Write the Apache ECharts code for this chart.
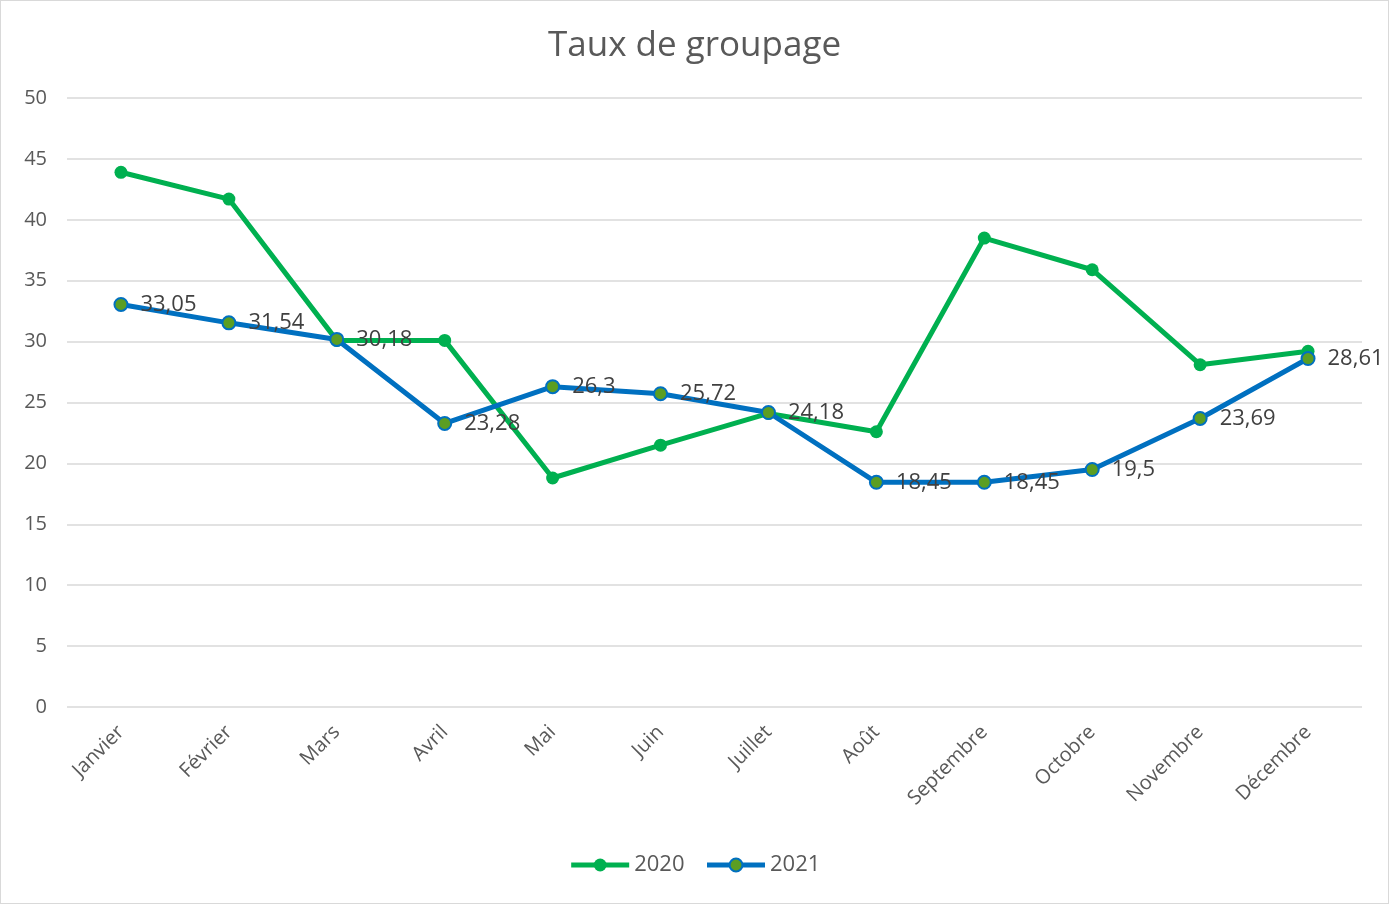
<!DOCTYPE html>
<html>
<head>
<meta charset="utf-8">
<script src="https://cdn.jsdelivr.net/npm/echarts@6/dist/echarts.min.js"></script>
<style>
  html, body { margin: 0; padding: 0; background: #fff; }
  #chart { width: 1389px; height: 904px; box-sizing: border-box; border: 1px solid #d9d9d9; }
</style>
</head>
<body>
<div id="chart"></div>
<script>
// mois
var months = ['Janvier', 'Février', 'Mars', 'Avril', 'Mai', 'Juin', 'Juillet', 'Août', 'Septembre', 'Octobre', 'Novembre', 'Décembre'];
// valeurs 2020
var values2020 = [43.9, 41.7, 30.1, 30.1, 18.8, 21.5, 24.1, 22.6, 38.5, 35.9, 28.1, 29.2];
// valeurs 2021
var values2021 = [33.05, 31.54, 30.18, 23.28, 26.3, 25.72, 24.18, 18.45, 18.45, 19.5, 23.69, 28.61];

var font = '"Open Sans", "DejaVu Sans", sans-serif';
var myChart = echarts.init(document.getElementById('chart'));
var option = {
  animation: false,
  title: {
    text: 'Taux de groupage',
    left: 'center',
    top: 23,
    textStyle: { fontSize: 35, fontWeight: 'normal', color: '#595959', fontFamily: font }
  },
  legend: {
    bottom: 22,
    left: 'center',
    itemWidth: 58,
    itemHeight: 16,
    itemGap: 20,
    lineStyle: { width: 5 },
    textStyle: { fontSize: 22, color: '#595959', fontFamily: font },
    data: ['2020', '2021']
  },
  grid: { left: 66, right: 26, top: 97, bottom: 196 },
  xAxis: {
    type: 'category',
    data: months,
    axisLine: { show: false },
    axisTick: { show: false },
    axisLabel: {
      rotate: 45,
      fontSize: 20,
      color: '#595959',
      fontFamily: font,
      margin: 22,
      interval: 0
    }
  },
  yAxis: {
    type: 'value',
    min: 0,
    max: 50,
    interval: 5,
    axisLine: { show: false },
    axisTick: { show: false },
    axisLabel: { fontSize: 20, color: '#595959', fontFamily: font, margin: 20 },
    splitLine: { lineStyle: { color: '#d9d9d9', width: 1.5 } }
  },
  series: [
    {
      name: '2020',
      type: 'line',
      data: values2020,
      symbol: 'circle',
      symbolSize: 13,
      lineStyle: { color: '#00B050', width: 5 },
      itemStyle: { color: '#00B050' }
    },
    {
      name: '2021',
      type: 'line',
      data: values2021,
      symbol: 'circle',
      symbolSize: 13,
      lineStyle: { color: '#0070C0', width: 5 },
      itemStyle: { color: '#5B9E22', borderColor: '#0070C0', borderWidth: 2 },
      label: {
        show: true,
        position: 'right',
        distance: 12,
        fontSize: 22,
        color: '#404040',
        fontFamily: font,
        formatter: function (p) { return String(p.value).replace('.', ','); }
      }
    }
  ]
};
myChart.setOption(option);
</script>
</body>
</html>
